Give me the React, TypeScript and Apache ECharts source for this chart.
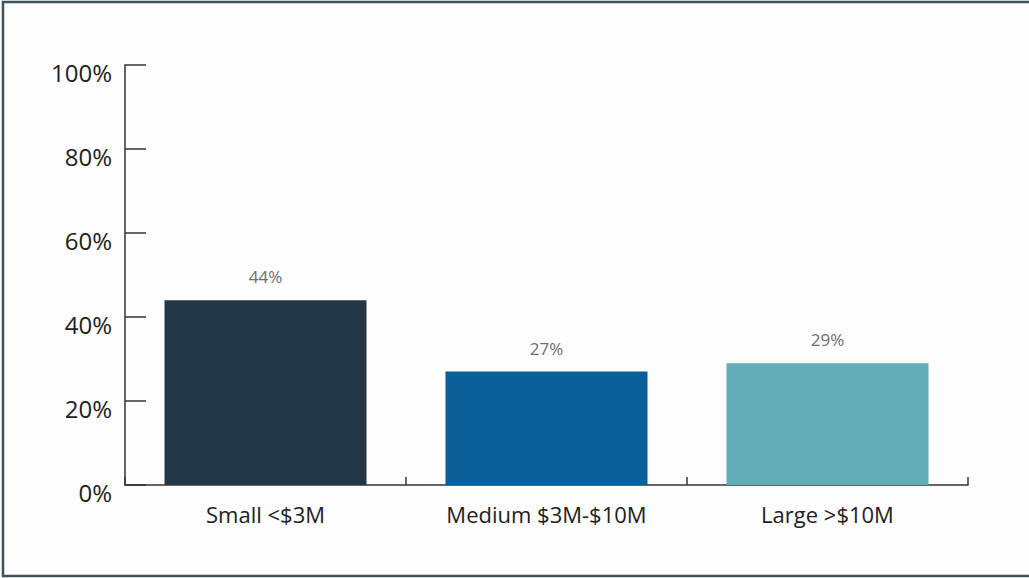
import React, { useEffect, useRef } from "react";
import * as echarts from "echarts";

const categories = ["Small <$3M", "Medium $3M-$10M", "Large >$10M"];
const values = [44, 27, 29];
const barColors = ["#233746", "#0b5f98", "#62adb8"];
const yTicks = [0, 20, 40, 60, 80, 100];

export default function App() {
  const ref = useRef<HTMLDivElement>(null);
  useEffect(() => {
    if (!ref.current) return;
    const chart = echarts.init(ref.current, undefined, { renderer: "svg" });
    const font = "'Open Sans', sans-serif";
    chart.setOption({
      animation: false,
      backgroundColor: "#fdfdfd",
      graphic: [
        {
          type: "rect",
          shape: { x: 3, y: 2, width: 1060, height: 574 },
          style: { fill: "none", stroke: "#3a5558", lineWidth: 2.5 },
          silent: true,
        },
      ],
      grid: { left: 125, right: 61, top: 65, bottom: 93, containLabel: false },
      xAxis: {
        type: "category",
        data: categories,
        axisLine: { show: true, lineStyle: { color: "#333", width: 1.5 } },
        axisTick: { show: true, inside: true, length: 8, alignWithLabel: false, lineStyle: { color: "#333", width: 1.5 } },
        axisLabel: { fontFamily: font, fontSize: 22, color: "#222", margin: 18 },
      },
      yAxis: {
        type: "value",
        min: yTicks[0],
        max: yTicks[yTicks.length - 1],
        interval: 20,
        axisLine: { show: true, lineStyle: { color: "#333", width: 1.5 } },
        axisTick: { show: true, inside: true, length: 21, lineStyle: { color: "#333", width: 1.5 } },
        splitLine: { show: false },
        axisLabel: {
          fontFamily: font,
          fontSize: 24,
          color: "#222",
          margin: 13,
          verticalAlign: "top",
          lineHeight: 15,
          formatter: "{value}%",
        },
      },
      series: [
        {
          type: "bar",
          barWidth: 202,
          data: values.map((v, i) => ({ value: v, itemStyle: { color: barColors[i] } })),
          label: {
            show: true,
            position: "top",
            distance: 15,
            formatter: "{c}%",
            fontFamily: font,
            fontSize: 17,
            color: "#6e6e6e",
          },
        },
      ],
    });
    return () => chart.dispose();
  }, []);
  return <div ref={ref} style={{ position: "fixed", left: 0, top: 0, width: 1029, height: 578 }} />;
}
